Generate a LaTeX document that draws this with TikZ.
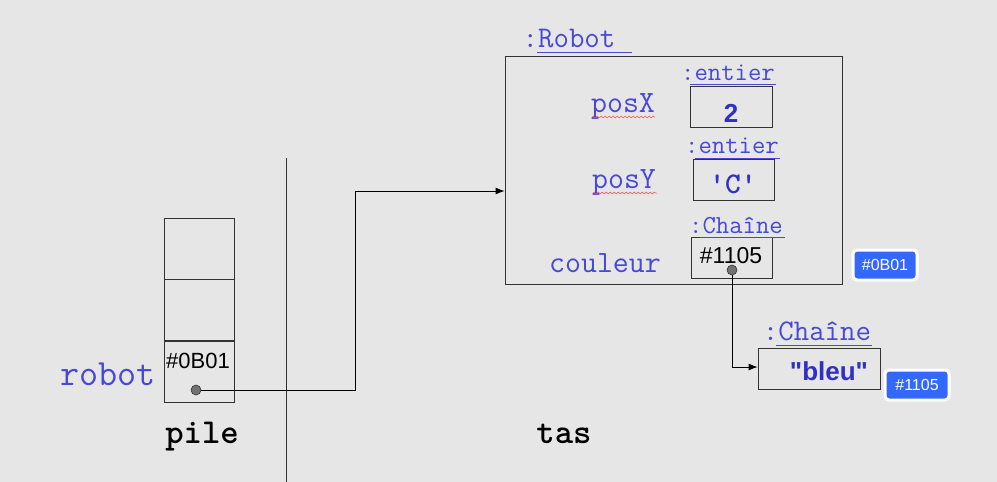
\documentclass[tikz,border=0pt]{standalone}
\usepackage{fontspec}
\setmainfont{Liberation Sans}
\newfontfamily\arialdroit{Liberation Sans}
\usetikzlibrary{positioning,arrows,arrows.meta,calc,decorations.pathmorphing}
\definecolor{fond}{RGB}{230,230,230}
\definecolor{nomcol}{RGB}{72,72,215}
\definecolor{valcol}{RGB}{48,48,200}
\definecolor{adrcol}{RGB}{52,104,250}

\begin{document}
\begin{tikzpicture}[x=1pt,y=-1pt,
		every node/.style={inner sep=0pt},
		cellule/.style={draw=black!80, line width=0.8pt, minimum width=70pt, minimum height=61pt},
		boite/.style={draw=black!80, line width=0.8pt, minimum height=41pt},
		typenom/.style={font=\ttfamily\fontsize{26}{28}\selectfont, text=nomcol, anchor=base},
		attrib/.style={font=\ttfamily\fontsize{31}{33}\selectfont, text=nomcol, anchor=base},
		valeur/.style={font=\bfseries\fontsize{26}{28}\selectfont, text=valcol, anchor=base},
		ptr/.style={circle, draw=black!80, fill=black!55, minimum size=10pt, line width=0.6pt},
		adresse/.style={draw=white, line width=3pt, fill=adrcol, rounded corners=4pt, text=white,
			font=\fontsize{16}{18}\selectfont, minimum width=64pt, minimum height=30pt},
		souligne/.style={nomcol, line width=1pt},
		faute/.style={red!70, line width=0.5pt, decorate, decoration={snake, segment length=4pt, amplitude=0.9pt}},
		>={Latex[length=9pt,width=7pt]}]
	\fill[fond] (0,0) rectangle (997,482);
	\useasboundingbox (0,0) rectangle (997,482);

	% separation pile / tas
	\coordinate (sephaut) at (286,158);
	\coordinate (sepbas) at (286,482);
	\draw[black!80, line width=0.8pt] (sephaut) -- (sepbas);

	% la pile
	\node[cellule] (c1) at (199,248.5) {};
	\node[cellule, below=0pt of c1] (c2) {};
	\node[cellule, below=0pt of c2] (c3) {};
	\node[anchor=base, font=\fontsize{22}{24}\selectfont] (ad0) at (198,368) {\#0B01};
	\node[ptr] (sdot) at (196,390) {};
	\node[attrib, font=\ttfamily\fontsize{37}{39}\selectfont] (robot) at (108,385) {robot};
	\node[anchor=base, font=\ttfamily\bfseries\fontsize{35}{37}\selectfont] (pile) at (202,443) {pile};
	\node[anchor=base, font=\ttfamily\bfseries\fontsize{35}{37}\selectfont] (tas) at (564,443) {tas};

	% l'objet Robot
	\node[draw=black!80, line width=0.8pt, minimum width=337pt, minimum height=228pt] (robotbox) at (673.5,170) {};
	\node[typenom, font=\ttfamily\fontsize{30}{32}\selectfont] (robottype) at (569,47) {:Robot};
	\draw[souligne] (537,52) -- (632,52);

	\node[attrib] (posx) at (623,112) {posX};
	\draw[faute] (592,117) -- (655,117);
	\node[boite, minimum width=82pt] (bx) at (731,107) {};
	\node[typenom] (tx) at (728,80) {:entier};
	\draw[souligne] (690,84.5) -- (776,84.5);
	\node[valeur] (vx) at (731,122) {2};

	\node[attrib] (posy) at (624,188) {posY};
	\draw[faute] (593,193) -- (657,193);
	\node[boite, minimum width=81pt] (by) at (733.5,180) {};
	\node[typenom] (ty) at (732,153) {:entier};
	\draw[souligne] (695,158) -- (780,158);
	\node[valeur, font=\ttfamily\bfseries\fontsize{30}{32}\selectfont] (vy) at (733,193) {'C'};

	\node[attrib] (coul) at (605,272) {couleur};
	\node[boite, minimum width=81pt] (bc) at (731.5,258) {};
	\node[typenom] (tc) at (736,233) {:Chaîne};
	\draw[souligne] (700,237) -- (785,237);
	\node[anchor=base, font=\fontsize{23}{25}\selectfont] (vc) at (731,263) {\#1105};
	\node[ptr] (cdot) at (732,270) {};

	% la chaine
	\node[boite, minimum width=122pt] (bleubox) at (819,369) {};
	\node[typenom, font=\ttfamily\fontsize{30}{32}\selectfont] (tb) at (817,340) {:Chaîne};
	\draw[souligne] (776,345) -- (872,345);
	\node[valeur, font=\arialdroit\bfseries\fontsize{26}{28}\selectfont] (vb) at (829,380) {"bleu"};

	% adresses
	\node[adresse] (adrobot) at (885,265) {\#0B01};
	\node[adresse] (adbleu) at (917,385) {\#1105};

	% references
	\coordinate (coude) at (355,191);
	\draw[->, line width=0.8pt] (sdot) -| (coude) -- (coude -| robotbox.west);
	\draw[->, line width=0.8pt] (cdot) |- ($(bleubox.west)+(0,-2)$);
\end{tikzpicture}
\end{document}
